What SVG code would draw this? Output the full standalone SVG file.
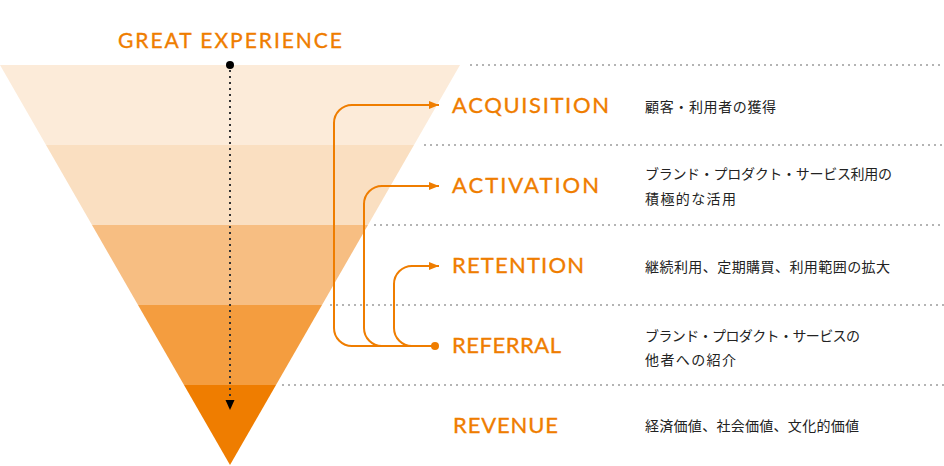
<svg xmlns="http://www.w3.org/2000/svg" width="944" height="466" viewBox="0 0 944 466">
<defs>
<style>
.en{font-family:Lato,"Open Sans","Liberation Sans",sans-serif;fill:#ef7d00;font-size:22px;font-weight:400;stroke:#ef7d00;stroke-width:0.35px}
.jp{font-family:"Noto Sans CJK JP","Noto Sans",sans-serif;fill:#222;font-size:14px}
.dl{stroke:#b4b4b4;stroke-width:2;stroke-dasharray:2 4;fill:none}
.cn{stroke:#ef7d00;stroke-width:2;fill:none}
</style>
<marker id="oa" viewBox="0 0 10 10" refX="10" refY="5" markerWidth="10" markerHeight="10" markerUnits="userSpaceOnUse" orient="auto"><path d="M0,1 L10,5 L0,9 Z" fill="#ef7d00"/></marker>
<marker id="ba" viewBox="0 0 10 10" refX="10" refY="5" markerWidth="10" markerHeight="10" markerUnits="userSpaceOnUse" orient="auto"><path d="M0,0.5 L10,5 L0,9.5 Z" fill="#000"/></marker>
</defs>
<g id="funnel">
<polygon points="0,65 460,65 414,145 46,145" fill="#fcebd9"/>
<polygon points="46,145 414,145 368,225 92,225" fill="#fadfc1"/>
<polygon points="92,225 368,225 322,305 138,305" fill="#f7be82"/>
<polygon points="138,305 322,305 276,385 184,385" fill="#f49d3f"/>
<polygon points="184,385 276,385 230,465" fill="#ef7d00"/>
</g>
<g id="separators">
<line class="dl" x1="470" y1="65" x2="944" y2="65"/>
<line class="dl" x1="424" y1="145" x2="944" y2="145"/>
<line class="dl" x1="374" y1="225" x2="944" y2="225"/>
<line class="dl" x1="330" y1="305" x2="944" y2="305"/>
<line class="dl" x1="282" y1="385" x2="944" y2="385"/>
</g>
<g id="title"><text class="en" x="118" y="48" style="font-size:21px" textLength="224" lengthAdjust="spacing">GREAT EXPERIENCE</text></g>
<g id="connectors">
<circle cx="230" cy="65" r="4" fill="#000"/>
<line x1="230" y1="70" x2="230" y2="410" stroke="#333" stroke-width="2" stroke-dasharray="2 4" marker-end="url(#ba)"/>
<path class="cn" d="M435,346 H352 A18,18 0 0 1 334,328 V123 A18,18 0 0 1 352,105 H439" marker-end="url(#oa)"/>
<path class="cn" d="M435,346 H382 A18,18 0 0 1 364,328 V204 A18,18 0 0 1 382,186 H439" marker-end="url(#oa)"/>
<path class="cn" d="M435,346 H412 A18,18 0 0 1 394,328 V284 A18,18 0 0 1 412,266 H439" marker-end="url(#oa)"/>
<circle cx="435" cy="346" r="4" fill="#ef7d00"/>
</g>
<g id="acquisition">
<text class="en" x="452" y="113" textLength="157" lengthAdjust="spacing">ACQUISITION</text>
<text class="jp" x="645" y="112" textLength="131" lengthAdjust="spacing">顧客・利用者の獲得</text>
</g>
<g id="activation">
<text class="en" x="452" y="193" textLength="147" lengthAdjust="spacing">ACTIVATION</text>
<text class="jp" x="645" y="179" textLength="247" lengthAdjust="spacing">ブランド・プロダクト・サービス利用の</text>
<text class="jp" x="645" y="204" textLength="91" lengthAdjust="spacing">積極的な活用</text>
</g>
<g id="retention">
<text class="en" x="452" y="273" textLength="132" lengthAdjust="spacing">RETENTION</text>
<text class="jp" x="645" y="272" textLength="245" lengthAdjust="spacing">継続利用、定期購買、利用範囲の拡大</text>
</g>
<g id="referral">
<text class="en" x="452" y="353" textLength="109" lengthAdjust="spacing">REFERRAL</text>
<text class="jp" x="645" y="341" textLength="215" lengthAdjust="spacing">ブランド・プロダクト・サービスの</text>
<text class="jp" x="645" y="365" textLength="91" lengthAdjust="spacing">他者への紹介</text>
</g>
<g id="revenue">
<text class="en" x="453" y="433" textLength="105" lengthAdjust="spacing">REVENUE</text>
<text class="jp" x="645" y="431" textLength="214" lengthAdjust="spacing">経済価値、社会価値、文化的価値</text>
</g>
</svg>
